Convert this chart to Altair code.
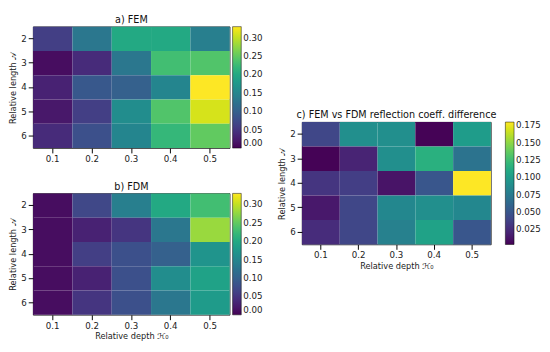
import altair as alt
import pandas as pd

depths = [0.1, 0.2, 0.3, 0.4, 0.5]
lengths = [2, 3, 4, 5, 6]

fem = [
    [0.06, 0.13, 0.20, 0.20, 0.14],
    [0.01, 0.04, 0.13, 0.23, 0.24],
    [0.03, 0.09, 0.10, 0.15, 0.33],
    [0.02, 0.06, 0.16, 0.24, 0.31],
    [0.04, 0.08, 0.15, 0.22, 0.25],
]
fdm = [
    [0.01, 0.07, 0.14, 0.20, 0.23],
    [0.01, 0.03, 0.05, 0.13, 0.28],
    [0.01, 0.06, 0.08, 0.10, 0.17],
    [0.01, 0.03, 0.08, 0.16, 0.19],
    [0.01, 0.05, 0.08, 0.13, 0.18],
]
diff = [
    [0.040, 0.090, 0.090, 0.004, 0.100],
    [0.004, 0.020, 0.090, 0.115, 0.070],
    [0.030, 0.035, 0.012, 0.050, 0.180],
    [0.014, 0.040, 0.085, 0.090, 0.085],
    [0.025, 0.040, 0.080, 0.105, 0.050],
]

ylab = "Relative length 𝒜"
xlab = "Relative depth ℋ₀"
FONT = "DejaVu Sans"


def frame(mat):
    rows = []
    for i, L in enumerate(lengths):
        for j, d in enumerate(depths):
            rows.append({"depth": d, "length": L, "v": mat[i][j]})
    return pd.DataFrame(rows)


def heat(mat, title, dom, ticks, fmt, w, h, xtitle, legend_offset):
    return (
        alt.Chart(frame(mat), title=alt.TitleParams(title, fontSize=10, font=FONT,
                                                     fontWeight="normal", offset=2,
                                                     color="#111"))
        .mark_rect()
        .encode(
            x=alt.X("depth:O", title=xtitle,
                    axis=alt.Axis(labelAngle=0, format=".1f", titleFontWeight="normal",
                                  titlePadding=2)),
            y=alt.Y("length:O", title=ylab,
                    axis=alt.Axis(titleFontWeight="normal", titlePadding=3)),
            color=alt.Color(
                "v:Q",
                scale=alt.Scale(scheme="viridis", domain=dom),
                legend=alt.Legend(
                    title=None, gradientLength=h, gradientThickness=9,
                    values=ticks, format=fmt, offset=legend_offset,
                    labelFontSize=9, labelFont=FONT, tickCount=len(ticks),
                    gradientStrokeColor="black", gradientStrokeWidth=0.5,
                ),
            ),
        )
        .properties(width=w, height=h)
    )


a = heat(fem, "a) FEM", [0, 0.33], [0, 0.05, 0.1, 0.15, 0.2, 0.25, 0.3], ".2f",
         204, 126, None, 3)
b = heat(fdm, "b) FDM", [0, 0.33], [0, 0.05, 0.1, 0.15, 0.2, 0.25, 0.3], ".2f",
         204, 126, xlab, 3)
c = heat(diff, "c) FEM vs FDM  reflection coeff. difference", [0.003, 0.18],
         [0.025, 0.05, 0.075, 0.1, 0.125, 0.15, 0.175], ".3f", 196, 127, xlab, 15)

spacer = (
    alt.Chart(pd.DataFrame({"x": [0]}))
    .mark_point(opacity=0)
    .encode(x=alt.value(0), y=alt.value(0))
    .properties(width=196, height=86, view=alt.ViewBackground(stroke=None))
)

left = alt.vconcat(a, b, spacing=17).resolve_scale(color="independent")
right = alt.vconcat(spacer, c, spacing=0).resolve_scale(color="independent")

chart = (
    alt.hconcat(left, right, spacing=13)
    .resolve_scale(color="independent")
    .properties(padding={"left": 0, "top": 0, "right": 0, "bottom": 0})
    .configure(font=FONT)
    .configure_view(stroke="black", strokeWidth=0.8)
    .configure_axis(labelFontSize=9, titleFontSize=8.5, labelFont=FONT, titleFont=FONT,
                    tickColor="black", domainColor="black", labelColor="#222",
                    titleColor="#222", labelPadding=2, domain=False)
    .configure_legend(labelColor="#222")
)

chart.save("out.html", embed_options={"renderer": "svg", "actions": False})
